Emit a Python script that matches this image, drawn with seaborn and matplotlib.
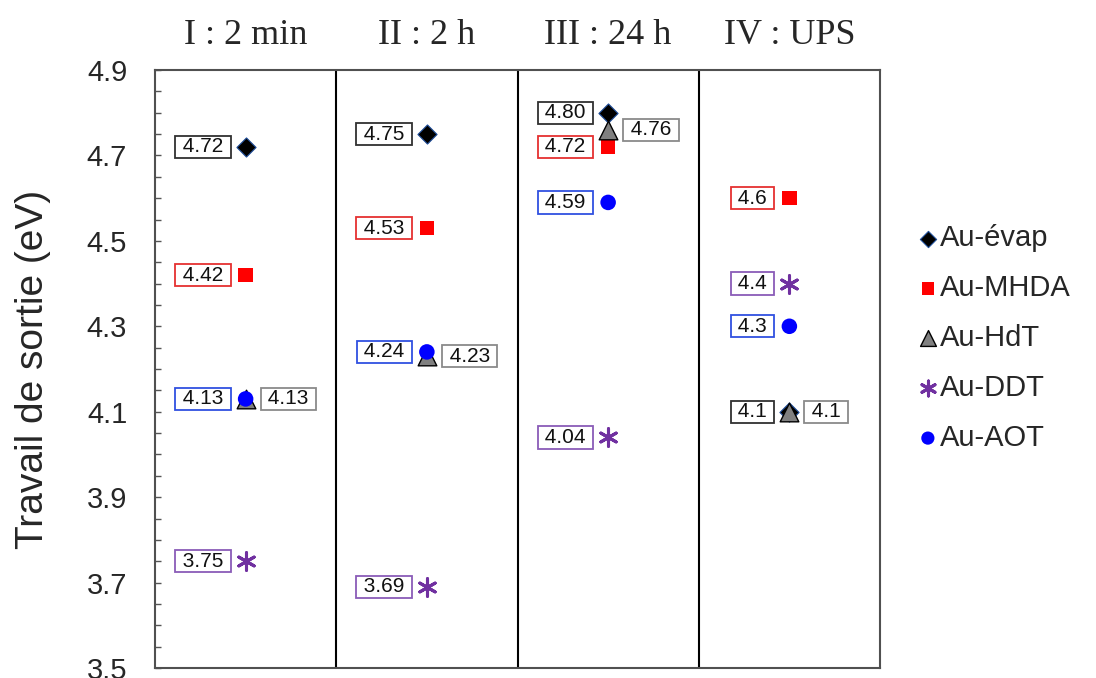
import numpy as np
import pandas as pd
import matplotlib
matplotlib.use("Agg")
import matplotlib.pyplot as plt
import seaborn as sns

# ---------------- data ----------------
stages = ["I : 2 min", "II : 2 h", "III : 24 h", "IV : UPS"]
stage_decimals = [2, 2, 2, 1]
series = ["Au-évap", "Au-MHDA", "Au-HdT", "Au-DDT", "Au-AOT"]
evap = [4.72, 4.75, 4.80, 4.1]
mhda = [4.42, 4.53, 4.72, 4.6]
hdt = [4.13, 4.23, 4.76, 4.1]
ddt = [3.75, 3.69, 4.04, 4.4]
aot = [4.13, 4.24, 4.59, 4.3]
label_side = ["left", "left", "right", "left", "left"]
yticks = [3.5, 3.7, 3.9, 4.1, 4.3, 4.5, 4.7, 4.9]

values = [evap, mhda, hdt, ddt, aot]
rows = []
for name, vals in zip(series, values):
    for i, v in enumerate(vals):
        rows.append(dict(series=name, stage=i, value=v))
df = pd.DataFrame(rows)

# ---------------- style ----------------
sns.set_theme(style="white")
plt.rcParams["font.family"] = ["Liberation Sans", "DejaVu Sans"]

styles = {
    "Au-évap": dict(marker="D", color="black", s=95, edgecolor="#1f4e9a", linewidth=0.8),
    "Au-MHDA": dict(marker="s", color="#ff0000", s=110, edgecolor="none"),
    "Au-HdT": dict(marker="^", color="#808080", s=180, edgecolor="black", linewidth=1),
    "Au-DDT": dict(marker=(6, 2, 0), color="#7030a0", s=160, linewidth=2.2),
    "Au-AOT": dict(marker="o", color="#0000ff", s=125, edgecolor="none"),
}
box_colors = {
    "Au-évap": "#303030",
    "Au-MHDA": "#e53030",
    "Au-HdT": "#8a8a8a",
    "Au-DDT": "#8a5cb8",
    "Au-AOT": "#3050e0",
}

fig = plt.figure(figsize=(10.96, 6.78), dpi=100)
ax = fig.add_axes([155 / 1096, 1 - 668 / 678, (880 - 155) / 1096, (668 - 70) / 678])

for name in series:
    sns.scatterplot(data=df[df["series"] == name], x="stage", y="value",
                    ax=ax, label=name, zorder=3, **styles[name])

# value boxes
for name, vals, side in zip(series, values, label_side):
    for i, v in enumerate(vals):
        txt = f" {v:.{stage_decimals[i]}f} "
        if side == "left":
            off, ha = (-12, 0), "right"
        else:
            off, ha = (12, 0), "left"
        ax.annotate(txt, xy=(i, v), xytext=off, textcoords="offset points",
                    ha=ha, va="center", fontsize=15, color="#111111", zorder=4,
                    bbox=dict(boxstyle="square,pad=0.08", fc="white",
                              ec=box_colors[name], lw=1.3))

# column separators
for xs in [0.5, 1.5, 2.5]:
    ax.axvline(xs, color="black", lw=1.5, zorder=1)

ax.set_xlim(-0.5, 3.5)
ax.set_ylim(3.5, 4.9)

ax.xaxis.tick_top()
ax.set_xticks(range(len(stages)))
ax.set_xticklabels(stages, fontsize=26, family=["Liberation Serif", "DejaVu Serif"])
ax.tick_params(axis="x", length=0, pad=13)
ax.set_xlabel("")

ax.set_yticks(yticks)
ax.set_yticklabels([f"{t:.1f}" for t in yticks], fontsize=21)
ax.set_yticks(np.arange(3.5, 4.91, 0.05), minor=True)
ax.tick_params(axis="y", which="both", direction="in", length=4, width=1,
               color="#555555", pad=20, left=True)
ax.set_ylabel("Travail de sortie (eV)", fontsize=28, labelpad=26)

for sp in ax.spines.values():
    sp.set_visible(True)
    sp.set_color("#505050")
    sp.set_linewidth(1.5)

leg = ax.legend(loc="center left", bbox_to_anchor=(906 / 1096, 340 / 678),
                bbox_transform=fig.transFigure, frameon=False, fontsize=21,
                handlelength=0.5, handletextpad=0.15, labelspacing=0.75,
                markerscale=0.85, borderpad=0)

fig.savefig("out.png", dpi=100)
